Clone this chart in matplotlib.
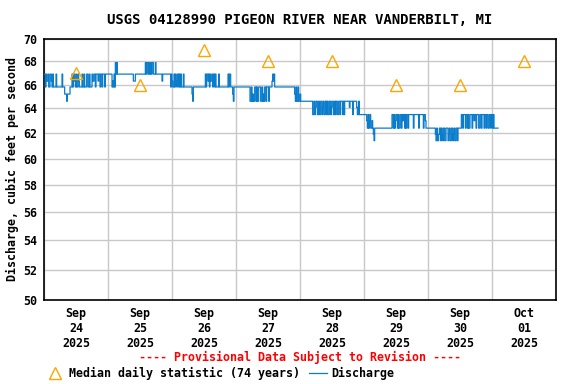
import numpy as np
import matplotlib
matplotlib.use('Agg')
import matplotlib.pyplot as plt
import matplotlib.dates as mdates
from matplotlib.lines import Line2D
from matplotlib.ticker import FixedLocator, FixedFormatter, NullLocator
import pandas as pd

plt.rcParams['font.family'] = 'DejaVu Sans Mono'
plt.rcParams['font.weight'] = 'bold'
plt.rcParams['axes.titleweight'] = 'bold'
plt.rcParams['axes.labelweight'] = 'bold'
plt.rcParams['font.size'] = 8.4

# median daily statistic (74 years), one per day
median_days = ['2025-09-24', '2025-09-25', '2025-09-26', '2025-09-27',
               '2025-09-28', '2025-09-29', '2025-09-30', '2025-10-01']
median_cfs = [67, 66, 69, 68, 68, 66, 66, 68]

# discharge (cfs, count of 15-minute readings)
sep24 = [(66.9, 2), (65.8, 1), (66.9, 1), (66.3, 2), (66.9, 1), (65.8, 2), (66.9, 2), (66.3, 1),
         (65.8, 1), (66.9, 1), (65.8, 2),
         (65.8, 2), (66.9, 1), (65.8, 8), (66.9, 1), (65.8, 3),
         (65.2, 3), (64.6, 1), (65.2, 4), (65.8, 3),
         (66.9, 1), (65.8, 1), (66.9, 2), (66.3, 1), (65.8, 1), (66.9, 1), (65.8, 2), (66.9, 1),
         (66.3, 1), (65.8, 1),
         (65.8, 3), (66.9, 1), (65.8, 2), (66.9, 1), (65.8, 3), (66.9, 2), (65.8, 2), (66.9, 1),
         (65.8, 3), (66.9, 1),
         (66.3, 2), (66.9, 2), (65.8, 1), (66.9, 3), (66.3, 1), (66.9, 2), (65.8, 1),
         (66.9, 2), (65.8, 1), (66.9, 3), (65.8, 1), (66.9, 4)]
sep25 = [(66.9, 6), (65.8, 1), (66.3, 1), (65.8, 1), (66.9, 1), (65.8, 1),
         (67.9, 1), (66.9, 1), (67.9, 1), (66.9, 24), (66.3, 3), (66.9, 15),
         (67.9, 1), (66.9, 1), (67.9, 2), (66.9, 1), (67.9, 1), (66.9, 2), (67.9, 1), (66.9, 1),
         (67.9, 2), (66.9, 3), (67.9, 1), (66.9, 2),
         (66.9, 7), (66.3, 1), (66.9, 12), (65.8, 1), (66.9, 1)]
sep26 = [(66.3, 1), (65.8, 2),
         (66.9, 1), (65.8, 1), (66.9, 1), (66.3, 1), (65.8, 1), (66.9, 2), (65.8, 1), (66.9, 1),
         (65.8, 1), (66.9, 1), (65.8, 1),
         (65.8, 2), (66.9, 1), (65.8, 12), (65.2, 1), (64.6, 1), (65.8, 18),
         (66.9, 1), (65.8, 1), (66.9, 2), (66.3, 1), (66.9, 1), (65.8, 1), (66.9, 1), (66.3, 2),
         (66.9, 1), (65.8, 1), (66.9, 2), (65.8, 1), (66.9, 1), (65.8, 2),
         (65.8, 2), (66.9, 1), (65.8, 13),
         (66.9, 1), (65.8, 1), (66.9, 2), (65.8, 2),
         (65.8, 1), (65.2, 1), (64.6, 1), (65.8, 3)]
sep27 = [(65.8, 21),
         (64.6, 2), (65.8, 1), (64.6, 1), (65.2, 1), (64.6, 2), (65.8, 2), (64.6, 1), (65.8, 1),
         (64.6, 2), (65.8, 3), (64.6, 2), (65.8, 1), (64.6, 1), (65.2, 1), (64.6, 1), (65.8, 2),
         (64.6, 1), (65.8, 3), (64.6, 1), (65.8, 4),
         (66.3, 1), (66.9, 1), (66.3, 1), (66.9, 1), (65.8, 5),
         (65.8, 25),
         (65.2, 1), (64.6, 1), (65.8, 1), (64.6, 2), (65.8, 1), (64.6, 2)]
sep28 = [(65.2, 1), (64.6, 2), (64.6, 16),
         (63.5, 2), (64.6, 1), (63.5, 1), (64.1, 1), (64.6, 2), (63.5, 2), (64.6, 1), (63.5, 2),
         (64.6, 2), (63.5, 1), (64.1, 1), (64.6, 1), (63.5, 2), (64.6, 2), (63.5, 1), (64.6, 1),
         (63.5, 2), (64.6, 2), (63.5, 1), (64.1, 1), (64.6, 2), (63.5, 2), (64.6, 1), (63.5, 1),
         (64.6, 2), (63.5, 2), (64.6, 2), (63.5, 1), (64.6, 3), (63.5, 1), (64.6, 1), (63.5, 1),
         (64.6, 2),
         (64.6, 5), (64.1, 1), (64.6, 4), (63.5, 1), (64.6, 5),
         (64.1, 1), (63.5, 2), (64.6, 1), (63.5, 7)]
sep29 = [(63.5, 4),
         (63.0, 1), (62.4, 1), (63.5, 1), (62.4, 1), (63.0, 1), (63.5, 1), (62.4, 2), (63.0, 1),
         (62.4, 1), (61.9, 1), (61.4, 1), (62.4, 2),
         (62.4, 24),
         (63.5, 2), (62.4, 1), (63.5, 1), (62.4, 1), (63.0, 1), (63.5, 2), (62.4, 1), (63.5, 1),
         (62.4, 2), (63.5, 2), (62.4, 1), (63.5, 1), (63.0, 1), (63.5, 2), (62.4, 1), (63.5, 1),
         (62.4, 1), (63.5, 2), (62.4, 1), (63.5, 2),
         (63.5, 5), (62.4, 1), (63.5, 7), (62.4, 1), (63.5, 6),
         (62.4, 1), (63.5, 2), (63.0, 1), (62.4, 3)]
sep30 = [(62.4, 11),
         (61.9, 1), (61.4, 1), (62.4, 1), (61.4, 2), (61.9, 1), (62.4, 2), (61.4, 1), (62.4, 1),
         (61.9, 1), (61.4, 1), (62.4, 2), (61.4, 2), (62.4, 3), (61.4, 1), (61.9, 1), (62.4, 1),
         (61.4, 2), (62.4, 2), (61.4, 1), (61.9, 1), (62.4, 1), (61.4, 2), (62.4, 2), (61.4, 1),
         (62.4, 5),
         (63.5, 2), (62.4, 1), (63.5, 3), (62.4, 1), (63.5, 2), (62.4, 1), (63.5, 1), (62.4, 2),
         (63.5, 3), (62.4, 1), (63.5, 2), (63.0, 1), (63.5, 2), (62.4, 1), (63.5, 3), (62.4, 2),
         (63.5, 2), (62.4, 1), (63.5, 3), (62.4, 1), (63.5, 2), (62.4, 1), (63.5, 2), (62.4, 2),
         (63.5, 2), (62.4, 1), (63.5, 1)]
oct01 = [(63.5, 1), (62.4, 1), (63.5, 1), (62.4, 7)]

yticks = [50, 52, 54, 56, 58, 60, 62, 64, 66, 68, 70]

runs = sep24 + sep25 + sep26 + sep27 + sep28 + sep29 + sep30 + oct01
cfs = np.repeat([r[0] for r in runs], [r[1] for r in runs])
t = pd.date_range('2025-09-24 00:00', periods=len(cfs), freq='15min')
median_t = pd.to_datetime(median_days) + pd.Timedelta(hours=12)

blue = '#0a7ccc'
orange = '#ffa500'

fig = plt.figure(figsize=(5.76, 3.84), dpi=100)
ax = fig.add_axes([0.0764, 0.2188, 0.8889, 0.6797])

ax.plot(t, cfs, color=blue, lw=0.9, drawstyle='steps-post', zorder=3)
ax.plot(median_t, median_cfs, ls='none', marker='^', mfc='none', mec=orange,
        ms=8, mew=1.0, zorder=4, clip_on=False)

ax.set_yscale('log')
ax.set_ylim(50, 70)
ax.yaxis.set_major_locator(FixedLocator(yticks))
ax.yaxis.set_major_formatter(FixedFormatter([str(v) for v in yticks]))
ax.yaxis.set_minor_locator(NullLocator())

ax.set_xlim(pd.Timestamp('2025-09-24'), pd.Timestamp('2025-10-02'))
ax.xaxis.set_major_locator(mdates.HourLocator(byhour=12))
ax.xaxis.set_major_formatter(mdates.DateFormatter('%b\n%d\n%Y'))
ax.xaxis.set_minor_locator(mdates.DayLocator())

ax.grid(axis='y', which='major', color='#c8c8c8', lw=1.0)
ax.grid(axis='x', which='minor', color='#c8c8c8', lw=1.0)
ax.tick_params(which='both', length=0)
ax.tick_params(axis='x', pad=5)
ax.tick_params(axis='y', pad=5)
for s in ax.spines.values():
    s.set_linewidth(1.2)

ax.set_ylabel('Discharge, cubic feet per second', labelpad=3)
ax.set_title('USGS 04128990 PIGEON RIVER NEAR VANDERBILT, MI', pad=11)

fig.text(0.521, 0.068, '---- Provisional Data Subject to Revision ----',
         color='red', ha='center', va='center')

handles = [Line2D([], [], ls='none', marker='^', mfc='none', mec=orange, ms=8, mew=1.0),
           Line2D([], [], color=blue, lw=0.9)]
fig.legend(handles, ['Median daily statistic (74 years)', 'Discharge'],
           loc='center left', bbox_to_anchor=(0.081, 0.028), ncol=2, frameon=False,
           handlelength=1.5, handletextpad=0.4, columnspacing=0.8, borderpad=0, borderaxespad=0)

fig.savefig('out.png', dpi=100)
